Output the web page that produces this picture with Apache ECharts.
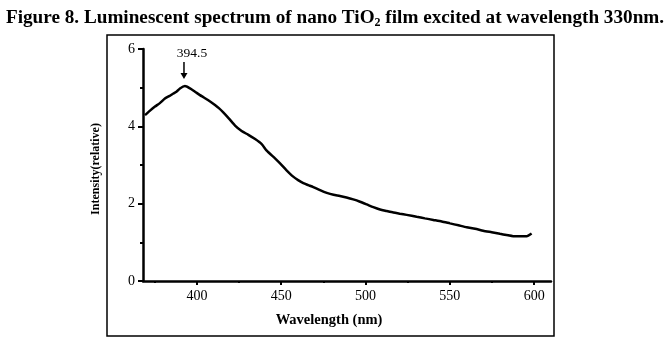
<!DOCTYPE html>
<html><head><meta charset="utf-8">
<script src="https://cdn.jsdelivr.net/npm/echarts@6/dist/echarts.min.js"></script>
<style>html,body{margin:0;padding:0;background:#fff}#c{width:670px;height:342px}</style>
</head><body><div id="c"></div>
<script>
// Data
const wavelength = [369.2, 372, 375.1, 378, 381.0, 383.5, 386.0, 388, 389.9, 392.9, 395.9, 399, 402.8, 406.5, 410.7, 413, 415.6, 419, 422.6, 426.5, 430.5, 434.5, 438.4, 441.4, 446.3, 449.3, 453, 457.1, 460, 463.1, 466, 469.0, 473, 477.0, 481, 484.8, 488.7, 492.7, 496.7, 500.7, 504.6, 508.6, 512.5, 516.5, 520.4, 524.4, 530.3, 535.2, 540.2, 545.2, 550.1, 555.1, 560.0, 565, 569.8, 574.8, 579.7, 583.6, 587.6, 591.6, 595.6, 598.5];
const intensity  = [4.29, 4.40, 4.51, 4.60, 4.72, 4.78, 4.85, 4.90, 4.98, 5.04, 4.98, 4.89, 4.78, 4.68, 4.55, 4.47, 4.36, 4.20, 4.02, 3.88, 3.78, 3.67, 3.54, 3.37, 3.17, 3.04, 2.87, 2.70, 2.61, 2.53, 2.48, 2.43, 2.35, 2.28, 2.23, 2.20, 2.16, 2.11, 2.05, 1.98, 1.91, 1.85, 1.81, 1.77, 1.74, 1.71, 1.66, 1.62, 1.58, 1.54, 1.49, 1.44, 1.39, 1.35, 1.30, 1.26, 1.22, 1.19, 1.16, 1.16, 1.16, 1.23];
const xTickValues = [400, 450, 500, 550, 600];
const xMinorTickValues = [375, 425, 475, 525, 575];
const peakLabel = '394.5';
const peakPoint = [392.9, 5.04];

const chart = echarts.init(document.getElementById('c'), null, {renderer: 'canvas'});
const serif = '"Liberation Serif", "DejaVu Serif", serif';
const seriesData = wavelength.map((w, i) => [w, intensity[i]]);

chart.setOption({
  animation: false,
  backgroundColor: '#fff',
  title: {
    text: '{b|Figure 8. Luminescent spectrum of nano TiO}{s|2}{b| film excited at wavelength 330nm.}',
    left: 'center', top: 2,
    textStyle: {
      rich: {
        b: {fontFamily: serif, fontWeight: 'bold', fontSize: 19.2, color: '#000'},
        s: {fontFamily: serif, fontWeight: 'bold', fontSize: 12, color: '#000', padding: [10, 0, 0, 0]}
      }
    }
  },
  grid: {left: 143, right: 119, top: 49, bottom: 61, containLabel: false},
  xAxis: [{
    type: 'value', min: 368, max: 610,
    axisLine: {lineStyle: {color: '#000', width: 2.5}},
    axisTick: {customValues: xTickValues, length: 4, lineStyle: {color: '#000', width: 2}},
    axisLabel: {customValues: xTickValues, color: '#000', fontFamily: serif, fontSize: 14, margin: 8},
    splitLine: {show: false},
    name: 'Wavelength (nm)', nameLocation: 'middle', nameGap: 32,
    nameTextStyle: {fontFamily: serif, fontWeight: 'bold', fontSize: 14.5, color: '#000', padding: [0, 36, 0, 0]}
  }, {
    type: 'value', min: 368, max: 610, position: 'bottom',
    axisLine: {show: false},
    axisTick: {customValues: xMinorTickValues, length: 2, lineStyle: {color: '#000', width: 2}},
    axisLabel: {show: false},
    splitLine: {show: false}
  }],
  yAxis: {
    type: 'value', min: 0, max: 6, interval: 2,
    axisLine: {show: true, lineStyle: {color: '#000', width: 2.5}},
    axisTick: {show: true, length: 5, lineStyle: {color: '#000', width: 2}},
    minorTick: {show: true, splitNumber: 2, length: 3, lineStyle: {color: '#000', width: 2}},
    axisLabel: {color: '#000', fontFamily: serif, fontSize: 14, margin: 8},
    splitLine: {show: false},
    name: 'Intensity(relative)', nameLocation: 'middle', nameGap: 41, nameRotate: 90,
    nameTextStyle: {fontFamily: serif, fontWeight: 'bold', fontSize: 12, color: '#000', padding: [0, 8, 0, 0]}
  },
  series: [{
    type: 'line', data: seriesData, showSymbol: false, smooth: 0.2,
    lineStyle: {color: '#000', width: 2.5}
  }]
});

const p = chart.convertToPixel({gridIndex: 0}, peakPoint);
chart.setOption({
  graphic: [
    {type: 'rect', shape: {x: 107, y: 35, width: 447, height: 301}, style: {fill: 'none', stroke: '#000', lineWidth: 1.5}, z: 100},
    {type: 'line', shape: {x1: p[0] - 1, y1: p[1] - 24, x2: p[0] - 1, y2: p[1] - 12}, style: {stroke: '#000', lineWidth: 1.5}, z: 100},
    {type: 'polygon', shape: {points: [[p[0] - 4.5, p[1] - 13], [p[0] + 2.5, p[1] - 13], [p[0] - 1, p[1] - 7]]}, style: {fill: '#000'}, z: 100},
    {type: 'text', x: p[0] + 7, y: p[1] - 33, style: {text: peakLabel, fontFamily: serif, fontSize: 13.5, fill: '#000', align: 'center', verticalAlign: 'middle'}, z: 100}
  ]
});
</script></body></html>
